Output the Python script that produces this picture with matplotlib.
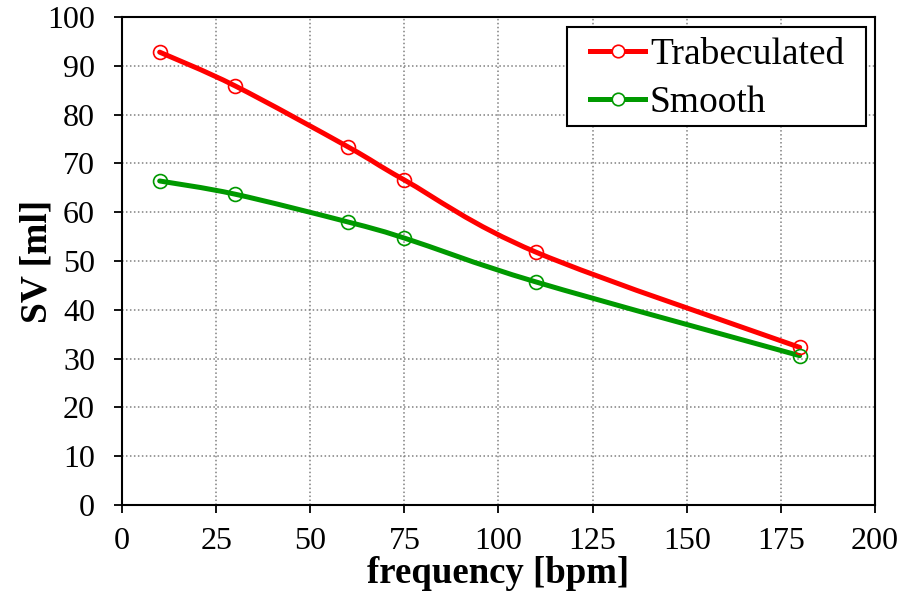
import matplotlib
matplotlib.use("Agg")
import matplotlib.pyplot as plt
from matplotlib.path import Path
from matplotlib.patches import PathPatch, Rectangle
from matplotlib.lines import Line2D
import numpy as np

# Stroke volume vs. heart rate for the two ventricle models
frequency = [10, 30, 60, 75, 110, 180]
sv_trabeculated = [92.8, 85.9, 73.4, 66.6, 51.8, 32.3]
sv_smooth = [66.4, 63.7, 58.0, 54.7, 45.7, 30.6]

series_names = ["Trabeculated", "Smooth"]
series_colors = ["#FF0000", "#009900"]
x_ticks = [0, 25, 50, 75, 100, 125, 150, 175, 200]
y_ticks = [0, 10, 20, 30, 40, 50, 60, 70, 80, 90, 100]

plt.rcParams["font.family"] = ["Liberation Serif", "DejaVu Serif"]


def smooth_path(xs, ys):
    """Cubic Bezier path through the points (Catmull-Rom style control points)."""
    pts = np.column_stack([xs, ys]).astype(float)
    n = len(pts)
    verts = [pts[0]]
    codes = [Path.MOVETO]
    for i in range(n - 1):
        p0 = pts[i - 1] if i > 0 else pts[i]
        p1 = pts[i]
        p2 = pts[i + 1]
        p3 = pts[i + 2] if i + 2 < n else pts[i + 1]
        c1 = p1 + (p2 - p0) / 6.0
        c2 = p2 - (p3 - p1) / 6.0
        verts += [c1, c2, p2]
        codes += [Path.CURVE4] * 3
    return Path(verts, codes)


fig = plt.figure(figsize=(9.12, 5.97), dpi=100)
ax = fig.add_axes([0.1338, 0.1541, 0.8256, 0.8174])

handles = []
for ys, name, color in zip([sv_trabeculated, sv_smooth], series_names, series_colors):
    patch = PathPatch(smooth_path(frequency, ys), facecolor="none",
                      edgecolor=color, linewidth=3.6, zorder=3,
                      capstyle="round", joinstyle="round")
    ax.add_patch(patch)
    ax.plot(frequency, ys, linestyle="none", marker="o", markersize=10,
            markerfacecolor="none", markeredgecolor=color,
            markeredgewidth=1.2, zorder=4)
    handles.append(Line2D([], [], color=color, linewidth=3.6, marker="o",
                          markersize=9, markerfacecolor="white",
                          markeredgecolor=color, markeredgewidth=1.2,
                          label=name))

ax.set_xlim(0, 200)
ax.set_ylim(0, 100)
ax.set_xticks(x_ticks)
ax.set_yticks(y_ticks)
ax.tick_params(axis="both", direction="out", length=6, width=1.3,
               labelsize=23, color="black")
ax.tick_params(axis="x", pad=10)
ax.tick_params(axis="y", pad=13.5)

for spine in ax.spines.values():
    spine.set_linewidth(1.5)
    spine.set_color("black")

ax.grid(True, linestyle=(0, (1, 1.6)), color="#808080", linewidth=1.1, zorder=0)
ax.set_axisbelow(True)

ax.set_xlabel("frequency [bpm]", fontsize=26.5, fontweight="bold", labelpad=0)
ax.set_ylabel("SV [ml]", fontsize=27, fontweight="bold", labelpad=-5.5)

# Legend box with wide side margins
frame = Rectangle((0.591, 0.7766), 0.397, 0.2029, transform=ax.transAxes,
                  facecolor="white", edgecolor="black", linewidth=1.5,
                  zorder=5)
ax.add_patch(frame)
leg = ax.legend(handles=handles, loc="center left", fontsize=27,
                frameon=False, handlelength=1.47, handletextpad=0.13,
                borderpad=0, borderaxespad=0, labelspacing=0.36,
                bbox_to_anchor=(0.6215, 0.873))
leg.set_zorder(6)

fig.savefig("out.png", dpi=100)
